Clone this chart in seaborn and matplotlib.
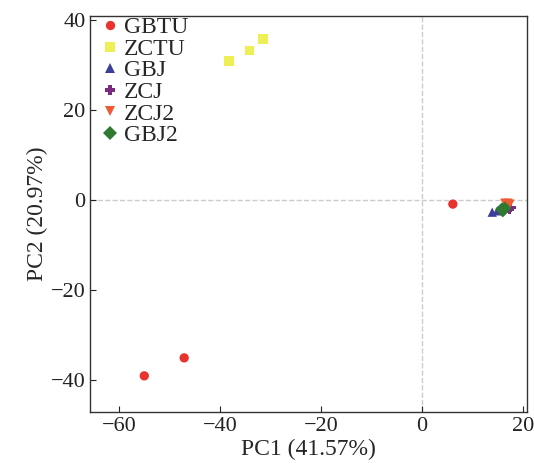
import pandas as pd
import matplotlib
matplotlib.use("Agg")
import matplotlib.pyplot as plt
import seaborn as sns

# group names and PCA scores
groups = ["GBTU", "ZCTU", "GBJ", "ZCJ", "ZCJ2", "GBJ2"]
pc1 = {
    "GBTU": [-55.0, -47.1, 6.1],
    "ZCTU": [-38.2, -34.1, -31.5],
    "GBJ": [13.9, 14.9, 15.4],
    "ZCJ": [17.0, 17.6, 17.3],
    "ZCJ2": [16.4, 17.0, 17.4],
    "GBJ2": [15.8, 16.4, 16.0],
}
pc2 = {
    "GBTU": [-39.1, -35.1, -0.9],
    "ZCTU": [30.9, 33.3, 35.8],
    "GBJ": [-2.7, -2.4, -2.2],
    "ZCJ": [-1.8, -1.6, -2.1],
    "ZCJ2": [-0.7, -0.7, -0.9],
    "GBJ2": [-2.0, -1.8, -2.4],
}
colors = ["#e8332f", "#eeee55", "#3b3f9a", "#7b2c80", "#ee5a33", "#2f7a30"]
markers = ["o", "s", "^", "P", "v", "D"]

rows = []
for g in groups:
    for x, y in zip(pc1[g], pc2[g]):
        rows.append({"PC1": x, "PC2": y, "group": g})
df = pd.DataFrame(rows)

sns.set_style("ticks")
plt.rcParams["font.family"] = ["Liberation Serif", "DejaVu Serif"]

fig, ax = plt.subplots(figsize=(5.34, 4.75), dpi=100)
fig.subplots_adjust(left=0.169, right=0.987, top=0.966, bottom=0.133)

ax.axhline(0, color="#cccccc", ls="--", lw=1, zorder=0)
ax.axvline(0, color="#cccccc", ls="--", lw=1, zorder=0)

sns.scatterplot(data=df, x="PC1", y="PC2", hue="group", style="group",
                hue_order=groups, style_order=groups,
                palette=colors, markers=markers, s=45, linewidth=0, ax=ax)

ax.set_xlim(-65.7, 20.8)
ax.set_ylim(-47.1, 40.9)
ax.set_xticks([-60, -40, -20, 0, 20])
ax.set_yticks([-40, -20, 0, 20, 40])
ax.tick_params(direction="in", length=4, labelsize=16, colors="#222222")
for sp in ax.spines.values():
    sp.set_color("#333333")
    sp.set_linewidth(1.0)

ax.set_xlabel("PC1 (41.57%)", fontsize=17, labelpad=2)
ax.set_ylabel("PC2 (20.97%)", fontsize=17, labelpad=2)

leg = ax.legend(loc="upper left", bbox_to_anchor=(-0.004, 1.028), frameon=False,
                fontsize=17, handletextpad=0.2, borderaxespad=0.1,
                labelspacing=0.0, handlelength=0.8, markerscale=1.0)

fig.savefig("out.png", dpi=100)
